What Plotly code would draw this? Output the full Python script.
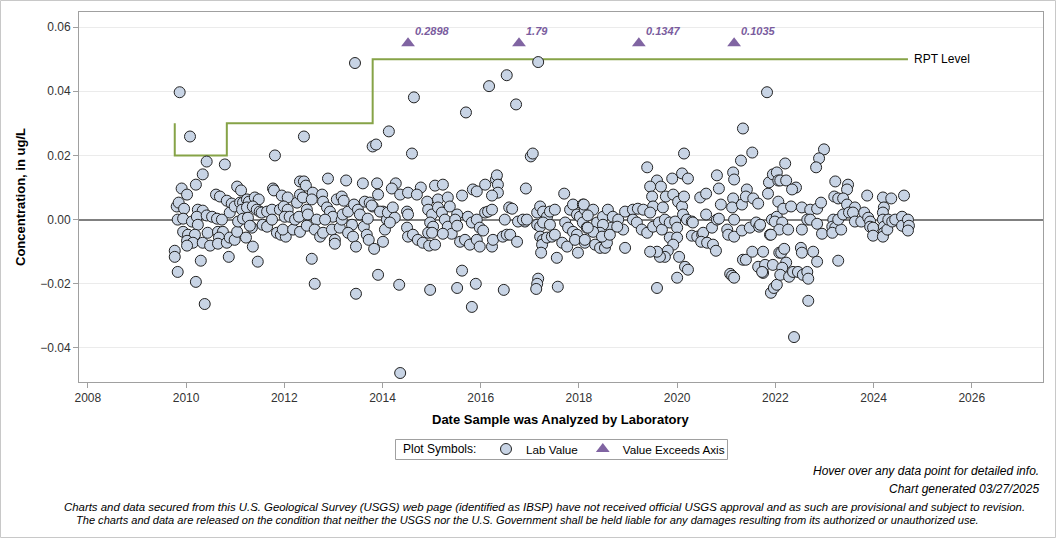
import plotly.graph_objects as go

# ---------------- data (decimal year, concentration ug/L) ----------------
dates_a = [2009.77, 2009.77, 2009.83, 2009.81, 2009.85, 2009.91, 2010.02, 2009.96, 2009.83, 2009.94,
           2010.12, 2009.87, 2010.08, 2010.20, 2010.34, 2010.42, 2010.79, 2010.24, 2010.34, 2010.22,
           2010.42, 2010.53, 2010.63, 2010.73, 2010.24, 2009.94, 2010.04, 2010.18, 2010.02, 2010.14,
           2010.02, 2010.34, 2010.49, 2010.44, 2010.65, 2010.75, 2010.67, 2010.65, 2010.83, 2010.89,
           2010.99, 2011.04, 2010.30, 2010.20, 2010.38, 2010.87, 2010.61, 2010.69, 2010.83, 2010.93,
           2010.89, 2011.04, 2011.12, 2010.99, 2011.10, 2011.16, 2011.24, 2011.28, 2011.40, 2011.48,
           2011.14, 2011.24, 2011.36, 2011.44, 2011.50, 2011.54, 2011.06, 2011.16, 2011.26, 2011.34,
           2011.30, 2011.22, 2011.36, 2011.46, 2011.65, 2011.75, 2011.81, 2011.77, 2011.79, 2011.95,
           2012.07, 2011.91, 2011.99, 2012.07, 2012.01, 2012.11, 2011.56, 2011.65, 2011.75, 2011.85,
           2011.93, 2012.03, 2011.97, 2012.18, 2012.32, 2012.22, 2012.30, 2012.26, 2012.32, 2012.40,
           2012.44, 2012.32, 2012.38, 2012.46, 2012.48, 2012.58, 2012.56, 2012.66, 2012.46, 2012.62,
           2012.73, 2012.79, 2012.56, 2012.62, 2012.40, 2012.89, 2012.77, 2012.79, 2012.87, 2012.93,
           2012.99, 2012.83, 2012.97, 2013.03, 2013.03, 2013.13, 2013.17, 2013.07, 2013.17, 2013.21,
           2013.26, 2013.19, 2013.30, 2013.38, 2013.30, 2013.40, 2013.46, 2013.60, 2013.42, 2013.50,
           2013.54, 2013.62, 2013.68, 2013.72, 2013.64, 2013.74, 2013.80, 2013.89, 2013.91, 2013.70,
           2013.83, 2013.91, 2013.46, 2014.01, 2014.09, 2014.05, 2014.01, 2013.80, 2013.87, 2013.44]
conc_a = [-0.0097, -0.0116, -0.0163, 0.0041, 0.0053, 0.0097, 0.0078, 0.0034, 0.0, 0.0003,
          -0.0006, 0.0397, 0.0259, 0.0109, 0.0141, 0.0181, 0.0172, 0.0031, 0.0028, 0.0009,
          0.0013, 0.0009, 0.0003, 0.0, -0.0016, -0.0038, -0.0047, -0.0047, -0.0066, -0.0072,
          -0.0081, -0.0072, -0.0081, -0.0041, -0.0038, -0.0038, -0.0056, -0.0075, -0.0072, -0.0056,
          -0.0063, -0.0038, -0.0128, -0.0194, -0.0263, -0.0116, 0.0078, 0.0072, 0.0059, 0.0050,
          0.0022, 0.0103, 0.0091, 0.0041, 0.0053, 0.0053, 0.0063, 0.0056, 0.0069, 0.0063,
          0.0031, 0.0038, 0.0041, 0.0031, 0.0025, 0.0022, -0.0006, 0.0003, 0.0006, -0.0025,
          -0.0019, -0.0056, -0.0084, -0.0131, 0.0025, 0.0031, 0.0200, 0.0097, 0.0091, 0.0075,
          0.0069, 0.0031, 0.0041, 0.0031, 0.0009, 0.0009, -0.0016, -0.0022, 0.0, -0.0041,
          -0.0047, -0.0053, -0.0031, -0.0031, -0.0038, 0.0, 0.0009, 0.0053, 0.0119, 0.0119,
          0.0106, 0.0078, 0.0069, 0.0031, 0.0016, 0.0084, 0.0063, 0.0, -0.0019, -0.0031,
          -0.0053, -0.0041, -0.0122, -0.0200, 0.0259, 0.0128, 0.0078, 0.0056, 0.0038, 0.0025,
          0.0009, 0.0, -0.0031, -0.0063, -0.0075, -0.0025, 0.0, 0.0063, 0.0072, 0.0059,
          0.0122, 0.0016, 0.0025, -0.0016, -0.0041, -0.0053, -0.0084, 0.0113, 0.0047, 0.0031,
          0.0016, -0.0022, -0.0047, -0.0063, 0.0056, 0.0053, 0.0041, 0.0113, 0.0078, 0.0003,
          -0.0091, -0.0172, -0.0231, 0.0025, 0.0, -0.0031, -0.0069, 0.0228, 0.0234, 0.0488]

dates_b = [2014.64, 2016.17, 2016.53, 2016.72, 2015.70, 2014.13, 2014.60, 2017.02, 2017.06, 2014.27,
           2014.19, 2014.36, 2014.52, 2014.78, 2014.70, 2015.07, 2015.23, 2015.13, 2015.33, 2015.62,
           2015.84, 2015.92, 2016.09, 2016.31, 2016.33, 2016.35, 2016.35, 2016.23, 2016.92, 2017.70,
           2013.78, 2013.95, 2014.11, 2014.21, 2014.25, 2014.15, 2014.34, 2014.36, 2014.50, 2014.52,
           2014.50, 2014.52, 2014.62, 2014.72, 2014.82, 2014.95, 2015.07, 2014.91, 2014.93, 2015.01,
           2014.97, 2015.03, 2014.93, 2015.01, 2015.13, 2015.21, 2015.27, 2015.33, 2015.41, 2015.23,
           2015.37, 2015.52, 2015.48, 2015.52, 2015.58, 2015.68, 2015.78, 2015.92, 2015.98, 2015.74,
           2015.82, 2015.92, 2015.98, 2016.05, 2016.09, 2016.15, 2016.23, 2016.23, 2016.25, 2016.45,
           2016.53, 2016.60, 2016.74, 2016.49, 2016.76, 2016.90, 2016.86, 2016.94, 2016.58, 2016.64,
           2015.62, 2015.90, 2015.52, 2014.97, 2015.82, 2016.47, 2017.15, 2017.21, 2017.27, 2017.35,
           2017.41, 2017.51, 2017.15, 2017.21, 2017.27, 2017.41, 2017.21, 2017.27, 2017.25, 2017.35,
           2017.45, 2017.51, 2017.23, 2017.55, 2017.17, 2017.15, 2017.13, 2017.57, 2017.66, 2017.76,
           2017.72, 2017.78, 2017.82, 2017.88, 2017.96, 2018.02, 2018.08, 2018.12, 2017.88, 2017.96,
           2017.92, 2017.98, 2018.12, 2018.08, 2018.16, 2017.17]
conc_b = [0.0381, 0.0416, 0.0450, 0.0359, 0.0334, 0.0275, 0.0206, 0.0197, 0.0206, 0.0113,
          0.0097, 0.0078, 0.0084, 0.0100, 0.0078, 0.0106, 0.0109, 0.0063, 0.0069, 0.0075,
          0.0094, 0.0088, 0.0109, 0.0125, 0.0138, 0.0109, 0.0084, 0.0075, 0.0097, 0.0081,
          0.0044, 0.0025, 0.0022, 0.0038, 0.0006, -0.0009, -0.0203, -0.0478, 0.0025, 0.0016,
          -0.0025, -0.0053, -0.0047, -0.0063, -0.0072, -0.0081, -0.0078, 0.0056, 0.0031, 0.0016,
          -0.0009, -0.0022, -0.0041, -0.0041, 0.0038, 0.0022, 0.0, -0.0022, -0.0044, -0.0044,
          0.0041, 0.0016, 0.0, -0.0019, -0.0069, -0.0063, -0.0078, -0.0063, -0.0084, 0.0009,
          -0.0009, 0.0, -0.0025, -0.0034, 0.0022, 0.0025, 0.0031, -0.0084, -0.0063, -0.0053,
          -0.0047, -0.0047, -0.0069, 0.0, -0.0006, -0.0006, 0.0, 0.0, 0.0038, 0.0034,
          -0.0159, -0.0200, -0.0213, -0.0219, -0.0272, -0.0219, 0.0022, 0.0041, 0.0025, 0.0009,
          0.0025, 0.0031, -0.0016, -0.0022, -0.0009, -0.0016, -0.0053, -0.0063, -0.0078, -0.0056,
          -0.0053, -0.0047, -0.0103, -0.0119, -0.0184, -0.0200, -0.0216, -0.0209, -0.0072, -0.0084,
          -0.0009, -0.0025, 0.0031, 0.0047, 0.0016, 0.0009, 0.0047, 0.0031, -0.0038, -0.0047,
          -0.0063, -0.0103, -0.0072, -0.0009, -0.0025, 0.0491]

dates_c = [2021.83, 2021.34, 2020.14, 2021.53, 2021.30, 2019.39, 2019.59, 2019.67, 2019.45, 2019.49,
           2019.90, 2020.10, 2020.22, 2019.77, 2019.92, 2020.02, 2020.10, 2020.14, 2019.51, 2019.71,
           2020.47, 2020.59, 2020.81, 2020.85, 2020.89, 2021.14, 2021.16, 2021.14, 2021.12, 2021.32,
           2021.42, 2021.40, 2021.55, 2021.65, 2021.85, 2021.87, 2021.95, 2022.03, 2022.06, 2022.06,
           2018.10, 2018.29, 2018.18, 2018.37, 2018.49, 2018.59, 2018.69, 2018.80, 2018.90, 2018.67,
           2018.49, 2018.43, 2018.29, 2018.18, 2018.12, 2018.33, 2018.43, 2018.53, 2018.57, 2018.47,
           2018.63, 2018.78, 2018.94, 2019.10, 2019.20, 2019.31, 2019.45, 2019.10, 2019.18, 2019.28,
           2019.39, 2019.51, 2019.63, 2019.69, 2019.75, 2019.85, 2019.96, 2020.00, 2019.85, 2020.00,
           2019.92, 2019.81, 2019.75, 2019.65, 2019.59, 2019.45, 2020.04, 2020.16, 2020.22, 2020.00,
           2019.59, 2018.94, 2020.12, 2020.20, 2020.30, 2020.32, 2020.30, 2020.41, 2020.51, 2020.53,
           2020.49, 2020.61, 2020.71, 2020.73, 2020.79, 2020.59, 2020.81, 2020.85, 2021.02, 2021.04,
           2021.16, 2021.16, 2021.32, 2021.48, 2021.61, 2021.67, 2021.34, 2021.40, 2021.53, 2021.75,
           2021.65, 2021.79, 2021.75, 2021.95, 2021.08, 2021.12, 2021.16, 2021.91, 2021.97, 2022.03,
           2021.89, 2021.93, 2022.03, 2022.08]
conc_c = [0.0397, 0.0284, 0.0206, 0.0209, 0.0184, 0.0163, 0.0122, 0.0103, 0.0103, 0.0072,
          0.0128, 0.0144, 0.0128, 0.0072, 0.0078, 0.0056, 0.0041, 0.0072, 0.0041, 0.0038,
          0.0069, 0.0081, 0.0138, 0.0097, 0.0047, 0.0147, 0.0125, 0.0066, 0.0038, 0.0047,
          0.0094, 0.0072, 0.0066, 0.0050, 0.0081, 0.0116, 0.0141, 0.0147, 0.0122, 0.0056,
          0.0047, 0.0031, 0.0013, -0.0009, 0.0009, 0.0031, 0.0009, 0.0, -0.0031, -0.0025,
          -0.0016, -0.0041, -0.0038, -0.0025, -0.0063, -0.0078, -0.0088, -0.0088, -0.0072, -0.0053,
          -0.0047, -0.0022, 0.0025, 0.0031, 0.0034, 0.0031, 0.0022, 0.0, -0.0009, -0.0031,
          -0.0041, -0.0022, -0.0009, -0.0031, 0.0, -0.0009, -0.0006, -0.0025, -0.0056, -0.0056,
          -0.0078, -0.0097, -0.0116, -0.0116, -0.0100, -0.0100, -0.0116, -0.0147, -0.0156, -0.0181,
          -0.0213, -0.0088, 0.0016, 0.0, -0.0006, -0.0009, -0.0050, -0.0053, -0.0047, -0.0041,
          -0.0069, -0.0072, -0.0025, -0.0078, -0.0097, 0.0016, 0.0, 0.0003, -0.0031, -0.0047,
          -0.0053, 0.0, -0.0034, -0.0025, -0.0009, -0.0022, -0.0125, -0.0125, -0.0100, -0.0100,
          -0.0147, -0.0141, -0.0166, -0.0141, -0.0169, -0.0175, -0.0181, -0.0228, -0.0213, -0.0203,
          -0.0047, 0.0, 0.0009, -0.0103]

dates_d = [2022.99, 2022.89, 2022.83, 2022.20, 2022.10, 2022.22, 2022.42, 2022.34, 2022.16, 2022.32,
           2022.54, 2022.71, 2022.85, 2022.93, 2023.22, 2023.48, 2023.46, 2023.20, 2023.28, 2023.38,
           2023.46, 2023.62, 2023.87, 2024.19, 2024.36, 2024.62, 2024.21, 2021.69, 2021.99, 2022.14,
           2022.08, 2022.26, 2021.91, 2022.54, 2022.65, 2022.71, 2022.85, 2022.95, 2023.18, 2023.16,
           2023.22, 2023.16, 2023.34, 2023.28, 2023.38, 2023.50, 2023.58, 2023.62, 2023.75, 2023.81,
           2023.89, 2023.93, 2023.93, 2023.99, 2023.99, 2024.19, 2024.19, 2024.21, 2024.21, 2024.19,
           2024.28, 2024.30, 2024.38, 2024.44, 2024.58, 2024.58, 2024.70, 2024.72, 2024.70, 2021.73,
           2022.12, 2022.18, 2022.22, 2022.14, 2022.10, 2022.28, 2022.36, 2022.46, 2022.56, 2022.65,
           2022.67, 2022.52, 2022.54, 2022.77, 2022.85, 2023.28, 2022.67, 2022.38]
conc_d = [0.0219, 0.0191, 0.0163, 0.0175, 0.0122, 0.0122, 0.0100, 0.0094, 0.0034, 0.0041,
          0.0038, 0.0031, 0.0034, 0.0053, 0.0119, 0.0109, 0.0094, 0.0072, 0.0066, 0.0066,
          0.0047, 0.0038, 0.0075, 0.0069, 0.0066, 0.0075, 0.0038, -0.0016, -0.0006, -0.0009,
          -0.0031, -0.0031, -0.0047, -0.0031, 0.0, 0.0, -0.0013, -0.0044, 0.0, -0.0022,
          -0.0025, -0.0041, -0.0031, 0.0, 0.0016, 0.0022, 0.0022, -0.0006, -0.0006, 0.0022,
          0.0006, -0.0006, -0.0022, -0.0025, -0.0050, 0.0022, 0.0, -0.0022, -0.0041, -0.0053,
          -0.0031, 0.0, -0.0006, 0.0, 0.0009, -0.0019, 0.0, -0.0019, -0.0034, -0.0163,
          -0.0103, -0.0091, -0.0134, -0.0150, -0.0172, -0.0178, -0.0163, -0.0163, -0.0172, -0.0163,
          -0.0184, -0.0088, -0.0103, -0.0100, -0.0131, -0.0128, -0.0253, -0.0366]

# values that exceed the axis (plotted at the top of the axis)
exceed_dates = [2014.52, 2016.78, 2019.22, 2021.16]
exceed_values = ["0.2898", "1.79", "0.1347", "0.1035"]
exceed_plot_level = 0.055

# reporting level (RPT) step line
rpt_dates = [2009.77, 2009.77, 2010.83, 2013.80, 2024.70]
rpt_values = [0.03, 0.02, 0.03, 0.05, 0.05]

x_ticks = [2008, 2010, 2012, 2014, 2016, 2018, 2020, 2022, 2024, 2026]
y_ticks = [-0.04, -0.02, 0.0, 0.02, 0.04, 0.06]

lab_dates = dates_a + dates_b + dates_c + dates_d
lab_conc = conc_a + conc_b + conc_c + conc_d

FONT = "Liberation Sans, Arial, sans-serif"
PURPLE = "#8064A2"
GREEN = "#86A347"

# plot-area geometry in pixels (for paper-coordinate placement of page furniture)
PL, PR, PT, PB = 79, 1043, 12, 382
PW, PH = PR - PL, PB - PT


def px(x):
    return (x - PL) / PW


def py(y):
    return (PB - y) / PH


fig = go.Figure()

fig.add_trace(go.Scatter(
    x=rpt_dates, y=rpt_values, mode="lines", line=dict(color=GREEN, width=2, shape="hv"),
    showlegend=False, hoverinfo="skip"))

fig.add_trace(go.Scatter(
    x=lab_dates, y=lab_conc, mode="markers", name="Lab Value",
    marker=dict(symbol="circle", size=11, color="#C8D4E5", line=dict(color="#222222", width=1))))

fig.add_trace(go.Scatter(
    x=exceed_dates, y=[exceed_plot_level] * len(exceed_dates), mode="markers",
    name="Value Exceeds Axis", text=exceed_values,
    marker=dict(symbol="triangle-up", size=12, color=PURPLE, line=dict(width=0))))

annotations = []
for d, v in zip(exceed_dates, exceed_values):
    annotations.append(dict(x=d, y=exceed_plot_level, xref="x", yref="y", text="<b><i>%s</i></b>" % v,
                            showarrow=False, xanchor="left", yanchor="bottom", xshift=5, yshift=4,
                            font=dict(family=FONT, size=11, color="#7A5C9E")))

annotations.append(dict(x=rpt_dates[-1], y=rpt_values[-1], xref="x", yref="y", text="RPT Level",
                        showarrow=False, xanchor="left", yanchor="middle", xshift=4,
                        font=dict(family=FONT, size=12, color="#000000")))

annotations.append(dict(x=px(20), y=0.5, xref="paper", yref="paper", text="<b>Concentration, in ug/L</b>",
                        textangle=-90, showarrow=False, xanchor="center", yanchor="middle",
                        font=dict(family=FONT, size=13, color="#000000")))
annotations.append(dict(x=px(560), y=py(419), xref="paper", yref="paper",
                        text="<b>Date Sample was Analyzed by Laboratory</b>",
                        showarrow=False, xanchor="center", yanchor="middle",
                        font=dict(family=FONT, size=13, color="#000000")))

# legend label
annotations.append(dict(x=px(401), y=py(449), xref="paper", yref="paper", text="Plot Symbols:",
                        showarrow=False, xanchor="left", yanchor="middle",
                        font=dict(family=FONT, size=12, color="#000000")))

annotations.append(dict(x=px(1041), y=py(471), xref="paper", yref="paper",
                        text="<i>Hover over any data point for detailed info.</i>",
                        showarrow=False, xanchor="right", yanchor="middle",
                        font=dict(family=FONT, size=12, color="#000000")))
annotations.append(dict(x=px(1041), y=py(489), xref="paper", yref="paper",
                        text="<i>Chart generated 03/27/2025</i>",
                        showarrow=False, xanchor="right", yanchor="middle",
                        font=dict(family=FONT, size=12, color="#000000")))
annotations.append(dict(x=px(544), y=py(507), xref="paper", yref="paper",
                        text="<i>Charts and data secured from this U.S. Geological Survey (USGS) web page (identified as IBSP) have not received official USGS approval and as such are provisional and subject to revision.</i>",
                        showarrow=False, xanchor="center", yanchor="middle",
                        font=dict(family=FONT, size=11.4, color="#000000")))
annotations.append(dict(x=px(527), y=py(520), xref="paper", yref="paper",
                        text="<i>The charts and data are released on the condition that neither the USGS nor the U.S. Government shall be held liable for any damages resulting from its authorized or unauthorized use.</i>",
                        showarrow=False, xanchor="center", yanchor="middle",
                        font=dict(family=FONT, size=11.05, color="#000000")))

shapes = [
    # outer page frame
    dict(type="rect", xref="paper", yref="paper", x0=px(0.5), x1=px(1055.5), y0=py(537.5), y1=py(0.5),
         line=dict(color="#C8C8C8", width=1), fillcolor="rgba(0,0,0,0)", layer="below"),
    # legend box
    dict(type="rect", xref="paper", yref="paper", x0=px(395.5), x1=px(727.5), y0=py(459.5), y1=py(439.5),
         line=dict(color="#A0A0A0", width=1), fillcolor="rgba(0,0,0,0)", layer="below"),
]

fig.update_layout(
    width=1056, height=538,
    margin=dict(l=PL, r=1056 - PR, t=PT, b=538 - PB),
    paper_bgcolor="white", plot_bgcolor="white",
    font=dict(family=FONT, size=12, color="#333333"),
    showlegend=True,
    legend=dict(orientation="h", x=px(486), xanchor="left", y=py(449), yanchor="middle",
                font=dict(family=FONT, size=11.7, color="#000000"),
                borderwidth=0, bgcolor="rgba(0,0,0,0)",
                itemwidth=30, tracegroupgap=0),
    annotations=annotations,
    shapes=shapes,
    hovermode="closest",
)

fig.update_xaxes(range=[2007.82, 2027.45], tickvals=x_ticks, ticks="outside", ticklen=5,
                 tickcolor="#A0A0A0", showgrid=False, zeroline=False,
                 showline=True, linecolor="#A0A0A0", linewidth=1, mirror=True,
                 tickfont=dict(family=FONT, size=12, color="#333333"))
fig.update_yaxes(range=[-0.0506, 0.0647], tickvals=y_ticks, tickformat=".2f", ticks="outside",
                 ticklen=5, tickcolor="#A0A0A0", showgrid=True, gridcolor="#EBEBEB", gridwidth=1,
                 zeroline=True, zerolinecolor="#808080", zerolinewidth=2,
                 showline=True, linecolor="#A0A0A0", linewidth=1, mirror=True,
                 tickfont=dict(family=FONT, size=12, color="#333333"))

fig.write_html("out.html")
